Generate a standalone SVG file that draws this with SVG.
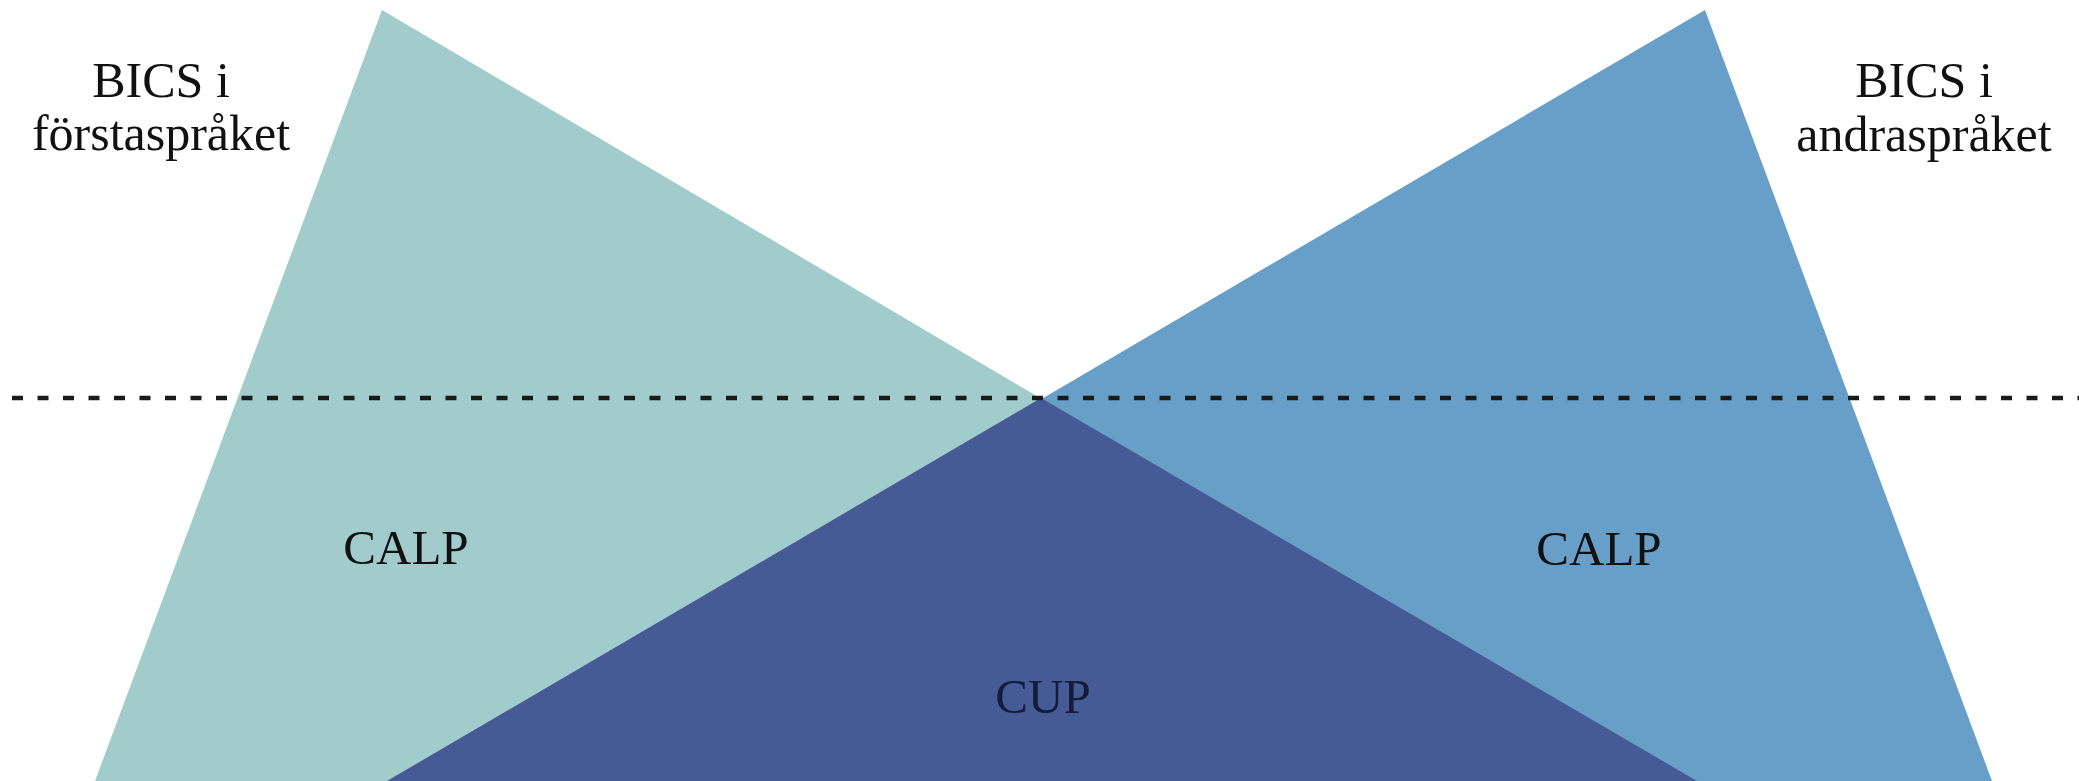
<svg xmlns="http://www.w3.org/2000/svg" width="2079" height="781" viewBox="0 0 2079 781">
<style>
.lbl{font-family:"Liberation Serif","Times New Roman",serif;fill:#111;text-anchor:middle}
.big{font-size:50px}
.mid{font-size:49px}
</style>
<rect width="2079" height="781" fill="#ffffff"/>
<g id="teal-triangle"><polygon points="382,10 95,781 1690,781" fill="#a2cccc"/></g>
<g id="blue-triangle"><polygon points="1705,10 1992,781 390,781" fill="#679fc9"/></g>
<g id="cup-triangle"><polygon points="1041,398 387,781 1697,781" fill="#465b95"/></g>
<g id="connectors"><line x1="12" y1="398" x2="2079" y2="398" stroke="#1a1a1a" stroke-width="4.5" stroke-dasharray="11 14.5"/></g>
<g id="bics1"><text class="lbl big" x="161" y="97">BICS i</text><text class="lbl big" x="161" y="150">förstaspråket</text></g>
<g id="bics2"><text class="lbl big" x="1924" y="97">BICS i</text><text class="lbl big" x="1924" y="151">andraspråket</text></g>
<g id="calp1"><text class="lbl mid" x="406" y="564">CALP</text></g>
<g id="calp2"><text class="lbl mid" x="1599" y="565">CALP</text></g>
<g id="cup"><text class="lbl mid" x="1043" y="713" style="fill:#141c3c">CUP</text></g>
</svg>
